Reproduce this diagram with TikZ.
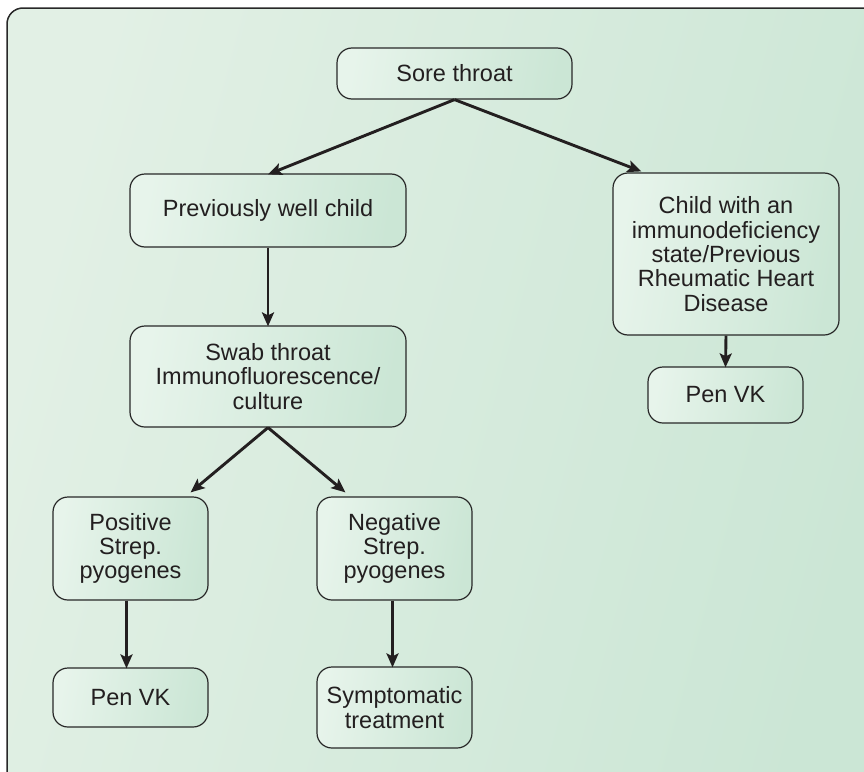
\documentclass[tikz,border=0pt]{standalone}
\usepackage{fontspec}
\setmainfont{Liberation Sans}
\usetikzlibrary{arrows.meta,calc}
\definecolor{bgL}{RGB}{226,240,229}
\definecolor{bgR}{RGB}{203,230,213}
\definecolor{bxL}{RGB}{231,244,235}
\definecolor{bxR}{RGB}{203,230,213}
\definecolor{ink}{RGB}{35,31,32}
\definecolor{edge}{RGB}{40,40,40}
\tikzset{
  flowbox/.style={draw=edge, line width=1.2pt, rounded corners=15pt,
    left color=bxL, right color=bxR, shading angle=80,
    align=center, text=ink, inner sep=0pt,
    font=\fontsize{23.5}{24.3}\selectfont},
  arr/.style={draw=ink, line width=2.9pt,
    -{Stealth[length=14pt,width=12pt,inset=3pt]}},
}
\begin{document}
\begin{tikzpicture}[x=1pt,y=-1pt]
\useasboundingbox (0,0) rectangle (864,771);
\shade[draw=edge, line width=1.5pt, rounded corners=16pt,
  left color=bgL, right color=bgR, shading angle=75]
  (7,8) rectangle (890,800);

\node[flowbox, minimum width=235pt, minimum height=51pt] (sore) at (454.5,73.5) {Sore throat};
\node[flowbox, minimum width=276pt, minimum height=73pt] (prev) at (268,210.5) {Previously well child};
\node[flowbox, minimum width=226pt, minimum height=162pt] (child) at (726,254) {Child with an\\immunodeficiency\\state/Previous\\Rheumatic Heart\\Disease};
\node[flowbox, minimum width=155pt, minimum height=56pt] (penR) at (725.5,395) {Pen VK};
\node[flowbox, minimum width=276pt, minimum height=101pt] (swab) at (268,376.5) {Swab throat\\Immunofluorescence/\\culture};
\node[flowbox, minimum width=155pt, minimum height=103pt] (pos) at (130.5,548.5) {Positive\\Strep.\\pyogenes};
\node[flowbox, minimum width=155pt, minimum height=103pt] (neg) at (394.5,548.5) {Negative\\Strep.\\pyogenes};
\node[flowbox, minimum width=155pt, minimum height=59pt] (penL) at (130.5,697.5) {Pen VK};
\node[flowbox, minimum width=155pt, minimum height=81pt] (sym) at (394.5,707.5) {Symptomatic\\treatment};

\draw[arr] (sore.south) -- ([yshift=-1pt]prev.north);
\draw[arr] (sore.south) -- ($(child.north west)+(29,-1)$);
\draw[arr] (prev.south) -- ([yshift=-1pt]swab.north);
\draw[arr] (child.south) -- ([yshift=-1pt]penR.north);
\draw[arr] (swab.south) -- ($(pos.north east)+(-18,-4)$);
\draw[arr] (swab.south) -- ($(neg.north west)+(29,-4)$);
\draw[arr] ([xshift=-4pt]pos.south) -- ([xshift=-4pt,yshift=-1pt]penL.north);
\draw[arr] ([xshift=-2pt]neg.south) -- ([xshift=-2pt,yshift=-1pt]sym.north);
\end{tikzpicture}
\end{document}
